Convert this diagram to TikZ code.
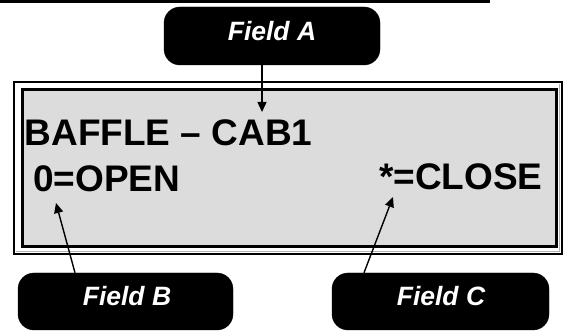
\documentclass[tikz,border=0pt]{standalone}
\usepackage{fontspec}
\setmainfont{Liberation Sans}
\usetikzlibrary{arrows.meta}
\definecolor{panelgray}{HTML}{DCDCDC}
\tikzset{
  fieldbox/.style={draw=black, fill=black, rounded corners=16pt, inner sep=0pt},
  fieldtext/.style={text=white, font=\fontsize{26.5}{29}\selectfont\bfseries\itshape, inner sep=0pt, anchor=center},
  lcdtext/.style={font=\fontsize{37}{41}\selectfont\bfseries, inner sep=0pt, anchor=base west},
  pointer/.style={draw=black, line width=1.4pt, -{Triangle[length=10pt,width=9pt]}},
}
\begin{document}
\begin{tikzpicture}[x=1pt,y=-1pt]
\useasboundingbox (0,0) rectangle (566,331);
% top rule
\draw[line width=3pt] (0,1.5) -- (490,1.5);
% display frame
\draw[line width=2pt] (14,82) rectangle (562,254);
\draw[line width=1pt, draw=gray!60] (559.5,84) -- (559.5,251.5) -- (16,251.5);
\draw[line width=3pt, fill=panelgray] (22.5,89.5) rectangle (556,246.5);
% display text
\node[lcdtext] (l1) at (24.5,145.5) {BAFFLE – CAB1};
\node[lcdtext] (l2) at (33,191.5) {0=OPEN};
\node[lcdtext] (l3) at (379,189.5) {*=CLOSE};
% field boxes
\node[fieldbox, minimum width=216pt, minimum height=58pt] (fa) at (272,36) {};
\node[fieldtext] (fat) at (272,31.5) {Field A};
\node[fieldbox, minimum width=215pt, minimum height=57pt] (fb) at (125.5,301.5) {};
\node[fieldtext] (fbt) at (127,296.5) {Field B};
\node[fieldbox, minimum width=217pt, minimum height=57pt] (fc) at (440.5,301.5) {};
\node[fieldtext] (fct) at (441,296.5) {Field C};
% pointer tips
\coordinate (ta) at (262,112);
\coordinate (tb) at (56,203);
\coordinate (tc) at (393,197);
\coordinate (sb) at (75,273);
\coordinate (sc) at (364,273);
% pointers
\draw[pointer] (fa.south -| ta) -- (ta);
\draw[pointer] (sb |- fb.north) -- (tb);
\draw[pointer] (sc |- fc.north) -- (tc);
\end{tikzpicture}
\end{document}
